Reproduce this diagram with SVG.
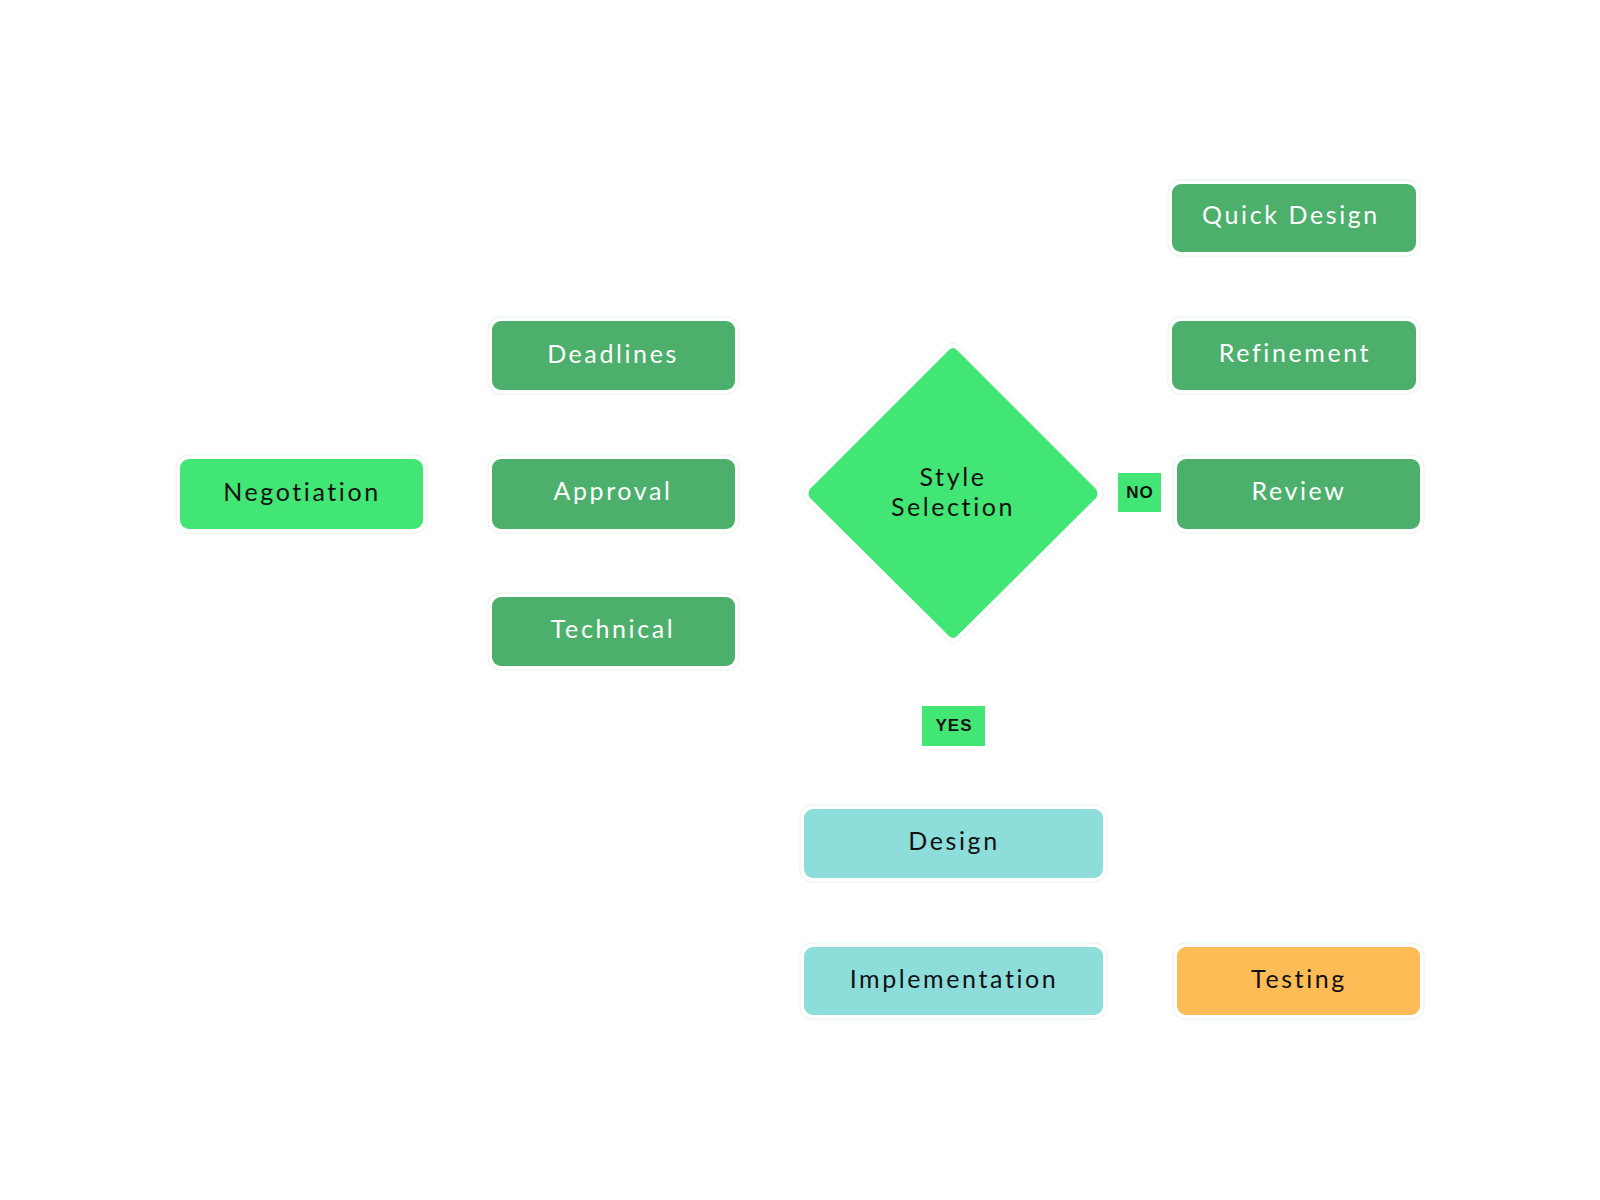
<svg xmlns="http://www.w3.org/2000/svg" width="1600" height="1200" viewBox="0 0 1600 1200">
<defs>
<style>
.halo{fill:#ffffff;stroke:#e2f5e8;stroke-width:1}
.dk{fill:#4caf6b}
.br{fill:#42e675}
.tl{fill:#8ddedb}
.or{fill:#febc57}
.lt{font-family:Lato,"Open Sans","Liberation Sans",sans-serif;font-size:25px;letter-spacing:2.6px;text-anchor:middle}
.w{fill:#ffffff}
.b{fill:#111111}
.tag{font-family:"Liberation Sans",Arial,sans-serif;font-size:17px;font-weight:bold;letter-spacing:1px;text-anchor:middle;fill:#111111}
.con{fill:none;stroke:#ffffff;stroke-width:2}
</style>
<marker id="arr" viewBox="0 0 10 10" refX="9" refY="5" markerWidth="7" markerHeight="7" orient="auto">
<path d="M0,0 L10,5 L0,10 z" fill="#ffffff"/>
</marker>
</defs>
<rect width="1600" height="1200" fill="#ffffff"/>

<g id="connectors">
<path class="con" marker-end="url(#arr)" d="M423,494 L490,494"/>
<path class="con" marker-end="url(#arr)" d="M613,459 L613,392"/>
<path class="con" marker-end="url(#arr)" d="M613,529 L613,595"/>
<path class="con" marker-end="url(#arr)" d="M807,494 L737,494"/>
<path class="con" marker-end="url(#arr)" d="M1294,252 L1294,319"/>
<path class="con" marker-end="url(#arr)" d="M1294,390 L1294,457"/>
<path class="con" marker-end="url(#arr)" d="M1099,494 L1175,494"/>
<path class="con" marker-end="url(#arr)" d="M953,639 L953,807"/>
<path class="con" marker-end="url(#arr)" d="M953,878 L953,945"/>
<path class="con" marker-end="url(#arr)" d="M1103,981 L1175,981"/>
</g>

<g id="negotiation">
<rect class="halo" x="176" y="455" width="251" height="78" rx="12"/>
<rect class="br" x="180" y="459" width="243" height="70" rx="9"/>
<text class="lt b" x="302" y="501">Negotiation</text>
</g>

<g id="deadlines">
<rect class="halo" x="488" y="317" width="251" height="77" rx="12"/>
<rect class="dk" x="492" y="321" width="243" height="69" rx="9"/>
<text class="lt w" x="613" y="363">Deadlines</text>
</g>

<g id="approval">
<rect class="halo" x="488" y="455" width="251" height="78" rx="12"/>
<rect class="dk" x="492" y="459" width="243" height="70" rx="9"/>
<text class="lt w" x="613" y="500">Approval</text>
</g>

<g id="technical">
<rect class="halo" x="488" y="593" width="251" height="77" rx="12"/>
<rect class="dk" x="492" y="597" width="243" height="69" rx="9"/>
<text class="lt w" x="613" y="638">Technical</text>
</g>

<g id="style-selection">
<path d="M953,343 Q956,343 958,346 L1102,489 Q1105,494 1102,499 L958,641 Q953,645 948,641 L805,499 Q801,494 805,489 L948,346 Q950,343 953,343 z" fill="#ffffff" stroke="#e2f5e8" stroke-width="1"/>
<path d="M953,348 Q955,348 957,350 L1096,489 Q1099,494 1096,498 L957,636 Q953,640 949,636 L810,498 Q807,494 810,489 L949,350 Q951,348 953,348 z" class="br"/>
<text class="lt b" x="953" y="486">Style</text>
<text class="lt b" x="953" y="516">Selection</text>
</g>

<g id="label-no">
<rect class="br" x="1118" y="473" width="43" height="39"/>
<text class="tag" x="1140" y="498">NO</text>
</g>

<g id="label-yes">
<rect class="br" x="922" y="706" width="63" height="40"/>
<text class="tag" x="954" y="731">YES</text>
</g>

<g id="quick-design">
<rect class="halo" x="1168" y="180" width="252" height="76" rx="12"/>
<rect class="dk" x="1172" y="184" width="244" height="68" rx="9"/>
<text class="lt w" x="1291" y="224">Quick Design</text>
</g>

<g id="refinement">
<rect class="halo" x="1168" y="317" width="252" height="77" rx="12"/>
<rect class="dk" x="1172" y="321" width="244" height="69" rx="9"/>
<text class="lt w" x="1295" y="362">Refinement</text>
</g>

<g id="review">
<rect class="halo" x="1173" y="455" width="251" height="78" rx="12"/>
<rect class="dk" x="1177" y="459" width="243" height="70" rx="9"/>
<text class="lt w" x="1299" y="500">Review</text>
</g>

<g id="design">
<rect class="halo" x="800" y="805" width="307" height="77" rx="12"/>
<rect class="tl" x="804" y="809" width="299" height="69" rx="9"/>
<text class="lt b" x="954" y="850">Design</text>
</g>

<g id="implementation">
<rect class="halo" x="800" y="943" width="307" height="76" rx="12"/>
<rect class="tl" x="804" y="947" width="299" height="68" rx="9"/>
<text class="lt b" x="954" y="988">Implementation</text>
</g>

<g id="testing">
<rect class="halo" x="1173" y="943" width="251" height="76" rx="12"/>
<rect class="or" x="1177" y="947" width="243" height="68" rx="9"/>
<text class="lt b" x="1299" y="988">Testing</text>
</g>
</svg>
